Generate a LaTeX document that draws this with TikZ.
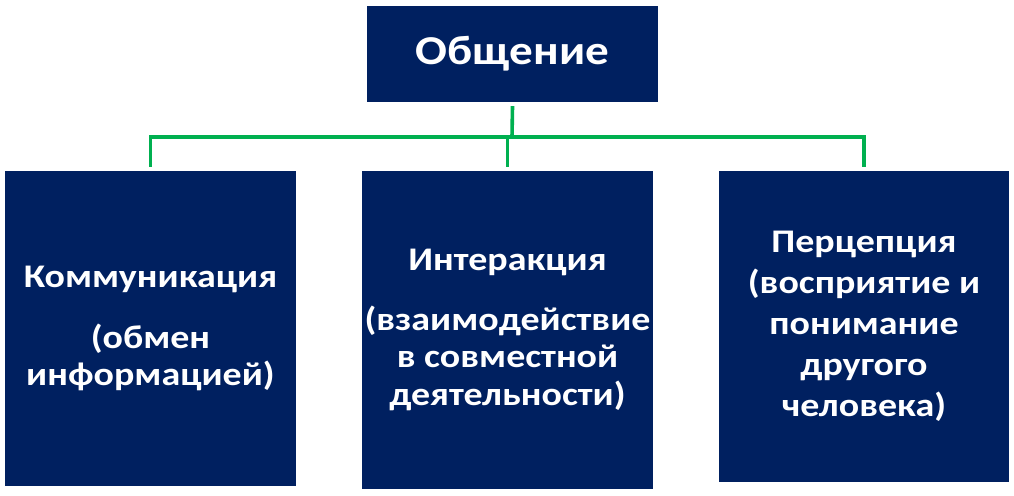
\documentclass[tikz,border=0pt]{standalone}
\usepackage{fontspec}
\setmainfont{Carlito}[FakeStretch=1.15]
\definecolor{navy}{HTML}{002060}
\definecolor{lgreen}{HTML}{00B050}
\tikzset{
  box/.style={fill=navy, draw=none, text=white, font=\bfseries, align=center, inner sep=0pt},
  conn/.style={draw=lgreen, line width=3.6pt, line join=miter},
}
\begin{document}
\begin{tikzpicture}[x=1pt,y=1pt]
\useasboundingbox (0,0) rectangle (1014,-495);
\node[box, minimum width=291pt, minimum height=96pt, font=\bfseries\fontsize{41}{48}\selectfont] (top) at (512.5,-54) {Общение};
\node[box, minimum width=291pt, minimum height=315pt, font=\bfseries\fontsize{33}{37.5}\selectfont] (left) at (150.5,-328.5)
  {Коммуникация\\[23pt](обмен\\информацией)};
\node[box, minimum width=291pt, minimum height=318pt, font=\bfseries\fontsize{33}{37.5}\selectfont] (mid) at (507.5,-330)
  {Интеракция\\[22pt](взаимодействие\\в совместной\\деятельности)};
\node[box, minimum width=290pt, minimum height=311pt, font=\bfseries\fontsize{33}{41}\selectfont] (right) at (864,-326.5)
  {Перцепция\\(восприятие и\\понимание\\другого\\человека)};
\coordinate (bus) at (512,-137);
\coordinate (ls) at ([yshift=4pt]left.north);
\coordinate (ms) at ([yshift=4pt]mid.north);
\coordinate (rs) at ([yshift=4pt]right.north);
\coordinate (ts) at ([yshift=-4pt]top.south);
\draw[conn] (ls) |- (bus) -| (rs);
\draw[conn] (ts) -- (bus);
\draw[conn] (ms) -- (ms |- bus);
\end{tikzpicture}
\end{document}
